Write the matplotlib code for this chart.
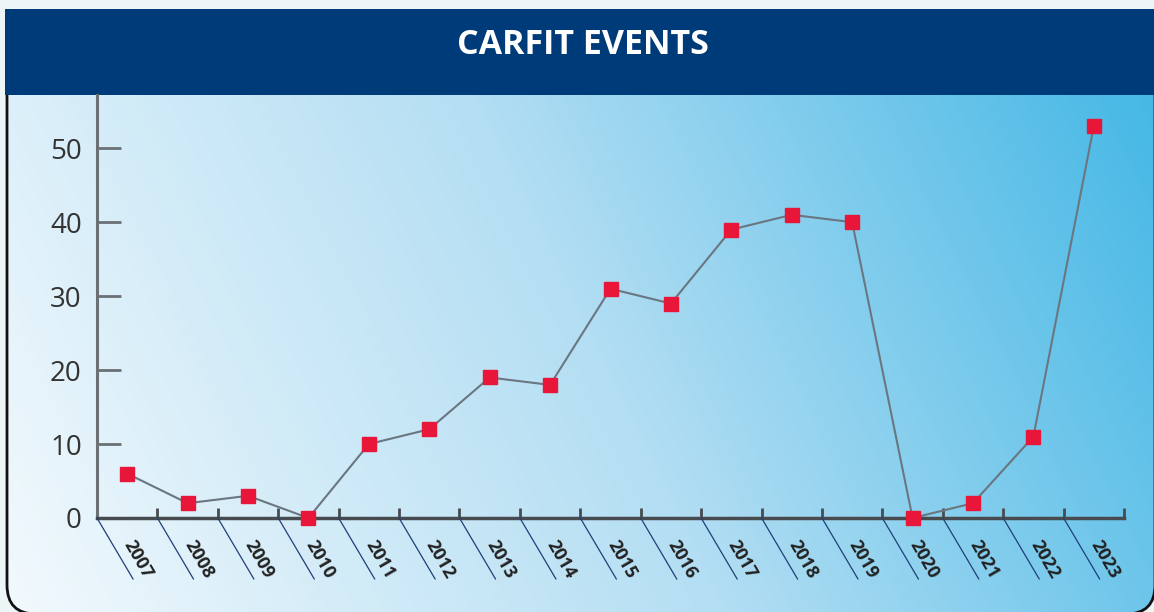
import numpy as np
import matplotlib
matplotlib.use("Agg")
import matplotlib.pyplot as plt
from matplotlib.colors import LinearSegmentedColormap
from matplotlib.patches import FancyBboxPatch, Rectangle

# data
years = [str(y) for y in range(2007, 2024)]
events = [6, 2, 3, 0, 10, 12, 19, 18, 31, 29, 39, 41, 40, 0, 2, 11, 53]
yticks = [0, 10, 20, 30, 40, 50]
title = "CARFIT EVENTS"

plt.rcParams['font.family'] = ['Open Sans', 'DejaVu Sans']

W, H = 1154, 612
fig = plt.figure(figsize=(W / 100, H / 100), dpi=100)
fig.patch.set_facecolor('#eef5f7')

# background layer, pixel units with origin bottom-left
bg = fig.add_axes([0, 0, 1, 1])

# gradient panel with rounded frame
panel = FancyBboxPatch((7, -2), 1148, 594, boxstyle="round,pad=0,rounding_size=29",
                       facecolor='none', edgecolor='#111111', lw=2, zorder=3)
bg.add_patch(panel)
nx, ny = 300, 160
xx, yy = np.meshgrid(np.linspace(0, 1, nx), np.linspace(0, 1, ny))
t = np.clip(0.8 * xx + 0.2 * yy, 0, 1)
cmap = LinearSegmentedColormap.from_list('panel', ['#f2f9fd', '#b3def3', '#40b6e5'])
im = bg.imshow(t, cmap=cmap, extent=(7, 1155, -2, 592), origin='lower',
               aspect='auto', zorder=1, interpolation='bilinear')
im.set_clip_path(panel)

# header
bg.add_patch(Rectangle((5, H - 95), W, 86, facecolor='#003b79', edgecolor='none', zorder=4))
bg.text(583, H - 45, title, color='white', fontsize=24.5, fontweight='bold',
        ha='center', va='center', zorder=5)
bg.set_xlim(0, W)
bg.set_ylim(0, H)
bg.axis('off')

# chart
ax = fig.add_axes([97 / W, (H - 518) / H, (1124 - 97) / W, (518 - 95) / H])
ax.patch.set_alpha(0)
x = np.arange(len(years))
ax.plot(x, events, color='#6a7680', lw=1.5, zorder=2, clip_on=False)
ax.plot(x, events, ls='none', marker='s', ms=9.5, mfc='#e8173a', mec='#e8173a',
        zorder=3, clip_on=False)

ax.set_xlim(-0.5, len(years) - 0.5)
ax.set_ylim(0, 57.2)
for s in ['top', 'right']:
    ax.spines[s].set_visible(False)
ax.spines['left'].set_color('#6b7075')
ax.spines['left'].set_linewidth(2.2)
ax.spines['bottom'].set_color('#474b4f')
ax.spines['bottom'].set_linewidth(2.5)

ax.set_yticks(yticks)
ax.tick_params(axis='y', direction='in', length=17, width=2, color='#6b7075',
               labelsize=20, labelcolor='#333333', pad=11)
ax.set_xticks(np.arange(-0.5, len(years), 1))
ax.set_xticklabels([])
ax.tick_params(axis='x', direction='in', length=7, width=2, color='#474b4f')

# slanted separators and labels
for i, yr in enumerate(years):
    ax.annotate('', xy=(i - 0.5, 0), xytext=(26, -44), textcoords='offset points',
                arrowprops=dict(arrowstyle='-', color='#1f3f78', lw=0.9,
                                shrinkA=0, shrinkB=0), annotation_clip=False)
    ax.annotate(yr, xy=(i, 0), xytext=(8, -30), textcoords='offset points',
                rotation=-60, rotation_mode='anchor', ha='center', va='center',
                fontsize=13, fontweight='bold', color='#222222',
                annotation_clip=False)

fig.savefig('out.png', dpi=100, facecolor=fig.get_facecolor())
